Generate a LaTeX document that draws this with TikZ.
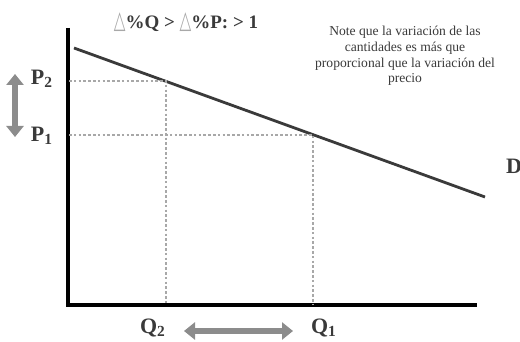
\documentclass[tikz,border=0pt]{standalone}
\usepackage{fontspec}
\setmainfont{Liberation Serif}
\newfontfamily\symfont{DejaVu Sans}
\usepackage{tikz}
\usetikzlibrary{arrows.meta}

\definecolor{inkgray}{HTML}{3A3A3A}
\definecolor{dotgray}{HTML}{A8A8A8}
\definecolor{arrgray}{HTML}{8C8C8C}

\begin{document}
\begin{tikzpicture}[
  x=0.5pt, y=-0.5pt,
  axis/.style={line width=2pt, color=black},
  curve/.style={line width=1.4pt, color=inkgray},
  guide/.style={line width=1.3pt, color=dotgray, dash pattern=on 1.3pt off 1.1pt},
  bigarr/.style={{Triangle[width=8.5pt,length=5.5pt]}-{Triangle[width=8.5pt,length=5.5pt]},
                 line width=3.2pt, color=arrgray},
  lab/.style={font=\bfseries\fontsize{11}{12}\selectfont, text=inkgray, inner sep=0pt},
]
\useasboundingbox (0,0) rectangle (520,342);

% axes
\coordinate (ytop) at (68,28);
\coordinate (org) at (68,305);
\coordinate (xend) at (477,305);
\draw[axis] (ytop) -- (org) -- (xend);

% demand line
\coordinate (d1) at (74,48);
\coordinate (d2) at (485,197);
\draw[curve] (d1) -- (d2);

% points on the line
\coordinate (e2) at (166,81);
\coordinate (e1) at (313,135);
\coordinate (p2) at (69,81);
\coordinate (p1) at (69,135);
\coordinate (q2) at (166,304);
\coordinate (q1) at (313,304);
\draw[guide] (p2) -- (e2) -- (q2);
\draw[guide] (p1) -- (e1) -- (q1);

% labels
\node[lab] (lp2) at (42,79) {P\textsubscript{2}};
\node[lab] (lp1) at (42,136) {P\textsubscript{1}};
\node[lab] (lq2) at (153,328) {Q\textsubscript{2}};
\node[lab] (lq1) at (324,328) {Q\textsubscript{1}};
\node[lab] (ld) at (514,166) {D};

% variation arrows
\coordinate (va) at (15,74);
\coordinate (vb) at (15,137);
\draw[bigarr] (va) -- (vb);
\coordinate (ha) at (184,331);
\coordinate (hb) at (293,331);
\draw[bigarr] (ha) -- (hb);

% title and note
\node[font=\bfseries\fontsize{9.5}{11}\selectfont, text=inkgray, inner sep=0pt] (title) at (186,22)
  {\textcolor{dotgray}{\symfont\mdseries\scalebox{0.8}[1.3]{△}}\%Q > \textcolor{dotgray}{\symfont\mdseries\scalebox{0.8}[1.3]{△}}\%P: > 1};
\node[font=\fontsize{6.8}{7.8}\selectfont, text=inkgray, align=center, inner sep=0pt] (note) at (405,56)
  {Note que la variación de las\\cantidades es más que\\proporcional que la variación del\\precio};
\end{tikzpicture}
\end{document}
